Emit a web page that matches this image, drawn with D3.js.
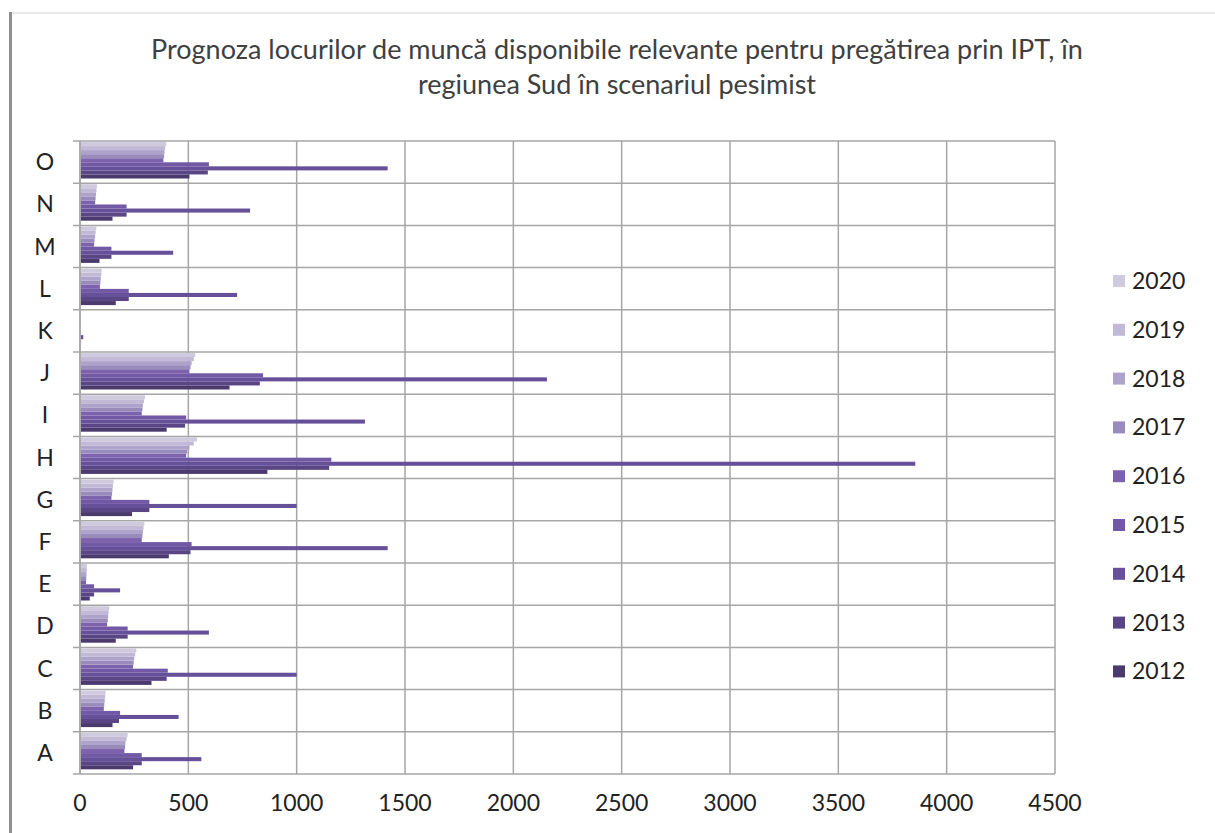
<!DOCTYPE html>
<html><head><meta charset="utf-8">
<script src="https://cdn.jsdelivr.net/npm/d3@7"></script>
<style>body{margin:0;background:#fff}svg{display:block}</style>
</head><body>
<svg id="c" width="1215" height="833"></svg>
<script>
const categories = ["A","B","C","D","E","F","G","H","I","J","K","L","M","N","O"];
const years = ["2012","2013","2014","2015","2016","2017","2018","2019","2020"];
// values per year, in category order A..O
const v2012 = [245,150,330,165,45,410,240,865,400,690,3,165,90,150,505];
const v2013 = [285,180,400,220,65,510,320,1150,485,830,5,225,145,215,590];
const v2014 = [560,455,1000,595,185,1420,1000,3855,1315,2155,15,725,430,785,1420];
const v2015 = [285,185,405,220,65,515,320,1160,490,845,5,225,145,215,595];
const v2016 = [205,110,245,125,28,285,145,490,285,505,3,92,65,70,385];
const v2017 = [208,112,248,128,29,288,148,495,288,510,3,94,67,72,388];
const v2018 = [210,114,250,130,30,290,150,505,290,515,3,96,70,74,390];
const v2019 = [215,116,255,132,31,293,152,525,295,525,3,98,72,76,393];
const v2020 = [220,118,260,135,32,297,155,540,300,532,3,100,75,78,398];
const seriesValues = [v2012,v2013,v2014,v2015,v2016,v2017,v2018,v2019,v2020];
const colors = ["#4b3a6e","#5a4585","#66509a","#7259a5","#7d63ae","#9a8bbd","#aea3ca","#c1b9d6","#cfcadd"];
const xTicks = [0,500,1000,1500,2000,2500,3000,3500,4000,4500];
const titleLines = ["Prognoza locurilor de muncă disponibile relevante pentru pregătirea prin IPT, în","regiunea Sud în scenariul pesimist"];

const svg = d3.select("#c");
const font = "Lato, 'Open Sans', sans-serif";
const L = 80, R = 1055, T = 141, B = 774;

// frame
svg.append("line").attr("x1",12).attr("x2",1215).attr("y1",13).attr("y2",13).attr("stroke","#d0d0d0").attr("stroke-width",1);
svg.append("line").attr("x1",10.5).attr("x2",10.5).attr("y1",12).attr("y2",833).attr("stroke","#8f8f8f").attr("stroke-width",3);

// title
svg.append("g").selectAll("text").data(titleLines).join("text")
  .attr("x",617).attr("y",(d,i)=>59+i*35).attr("text-anchor","middle")
  .attr("font-family",font).attr("font-size",27).attr("fill","#404040").text(d=>d);

const x = d3.scaleLinear().domain([0,4500]).range([L,R]);
const y = d3.scaleBand().domain(categories.slice().reverse()).range([T,B]).padding(0);
const yIn = d3.scaleBand().domain(years.slice().reverse()).range([1,37.5]).padding(0);

// grid
const grid = svg.append("g");
grid.selectAll("line.v").data(xTicks).join("line").attr("class","v")
  .attr("x1",d=>x(d)).attr("x2",d=>x(d)).attr("y1",T).attr("y2",B)
  .attr("stroke","#a6a6a6").attr("stroke-width",1.5);
const bounds = categories.map(c=>y(c)).concat([B]);
grid.selectAll("line.h").data(bounds).join("line").attr("class","h")
  .attr("x1",L-7).attr("x2",R).attr("y1",d=>d).attr("y2",d=>d)
  .attr("stroke","#a6a6a6").attr("stroke-width",1.5);

// bars
const bars = svg.append("g");
years.forEach((yr,si)=>{
  bars.append("g").selectAll("rect").data(categories).join("rect")
    .attr("x",x(0)+1)
    .attr("y",(c)=>y(c)+yIn(yr))
    .attr("height",yIn.bandwidth())
    .attr("width",(c,i)=>Math.max(0,x(seriesValues[si][i])-x(0)-1))
    .attr("fill",colors[si]);
});

// axis line
svg.append("line").attr("x1",L).attr("x2",L).attr("y1",T).attr("y2",B).attr("stroke","#a6a6a6").attr("stroke-width",1.5);

// category labels
svg.append("g").selectAll("text").data(categories).join("text")
  .attr("x",45).attr("y",c=>y(c)+y.bandwidth()/2+8).attr("text-anchor","middle")
  .attr("font-family",font).attr("font-size",23).attr("fill","#222").text(d=>d);

// x tick labels
svg.append("g").selectAll("text").data(xTicks).join("text")
  .attr("x",d=>x(d)).attr("y",811).attr("text-anchor","middle")
  .attr("font-family",font).attr("font-size",23).attr("fill","#222").text(d=>d);

// legend
const leg = svg.append("g");
const legYears = years.slice().reverse();
const legColors = colors.slice().reverse();
legYears.forEach((yr,i)=>{
  const cy = 281 + i*48.8;
  leg.append("rect").attr("x",1113).attr("y",cy-6).attr("width",12).attr("height",12).attr("fill",legColors[i]);
  leg.append("text").attr("x",1132).attr("y",cy+8).attr("font-family",font).attr("font-size",23).attr("fill","#222").text(yr);
});
</script>
</body></html>
